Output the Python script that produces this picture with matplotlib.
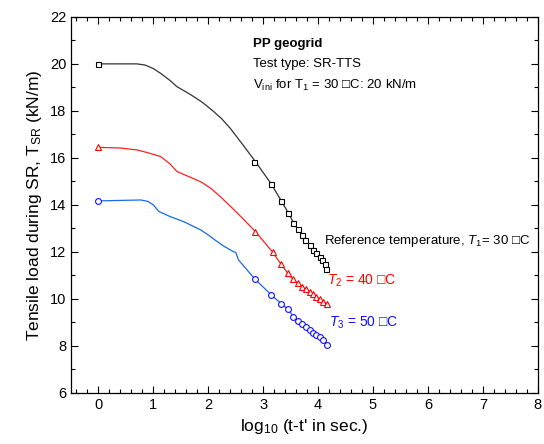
import numpy as np
import matplotlib
matplotlib.use("Agg")
import matplotlib.pyplot as plt

plt.rcParams['font.family'] = ['Liberation Sans', 'DejaVu Sans']
plt.rcParams['mathtext.fontset'] = 'custom'
plt.rcParams['mathtext.rm'] = 'Liberation Sans'
plt.rcParams['mathtext.it'] = 'Liberation Sans:italic'
plt.rcParams['mathtext.default'] = 'regular'

# T1 = 30 C (reference) - line
x30_line = [0, 0.7, 0.85, 1.0, 1.13, 1.3, 1.43, 1.6, 1.74, 1.9, 2.1, 2.25, 2.4, 2.6, 2.86,
            3.15, 3.33, 3.46, 3.55, 3.63, 3.71, 3.77, 3.85, 3.91, 3.97, 4.03, 4.07, 4.12, 4.15]
y30_line = [20.0, 20.0, 19.95, 19.8, 19.6, 19.3, 19.03, 18.8, 18.6, 18.35, 17.97, 17.65, 17.26,
            16.65, 15.84, 14.88, 14.17, 13.65, 13.25, 12.97, 12.72, 12.51, 12.3, 12.09, 11.94,
            11.8, 11.66, 11.49, 11.28]
x30_mk = [0, 2.84, 3.15, 3.33, 3.46, 3.55, 3.63, 3.71, 3.77, 3.85, 3.91, 3.97, 4.03, 4.07, 4.12, 4.15]
y30_mk = [20.0, 15.82, 14.88, 14.17, 13.65, 13.25, 12.97, 12.72, 12.51, 12.3, 12.09, 11.94,
          11.8, 11.66, 11.49, 11.28]

# T2 = 40 C
x40_line = [0, 0.4, 0.7, 0.9, 1.13, 1.3, 1.43, 1.6, 1.86, 2.05, 2.22, 2.4, 2.53, 2.7, 2.86,
            3.17, 3.32, 3.45, 3.54, 3.63, 3.71, 3.78, 3.85, 3.91, 3.97, 4.03, 4.09, 4.16]
y40_line = [16.45, 16.42, 16.34, 16.22, 16.06, 15.75, 15.42, 15.25, 14.99, 14.7, 14.35, 13.95,
            13.65, 13.25, 12.86, 12.0, 11.49, 11.09, 10.84, 10.67, 10.52, 10.41, 10.31, 10.2,
            10.1, 9.99, 9.89, 9.79]
x40_mk = [0, 2.86, 3.17, 3.32, 3.45, 3.54, 3.63, 3.71, 3.78, 3.85, 3.91, 3.97, 4.03, 4.09, 4.16]
y40_mk = [16.45, 12.86, 12.0, 11.49, 11.09, 10.84, 10.67, 10.52, 10.41, 10.31, 10.2, 10.1,
          9.99, 9.89, 9.79]

# T3 = 50 C
x50_line = [0, 0.77, 0.9, 1.0, 1.1, 1.31, 1.55, 1.86, 2.0, 2.16, 2.3, 2.46, 2.5, 2.55, 2.7,
            2.85, 3.15, 3.33, 3.45, 3.55, 3.63, 3.71, 3.78, 3.85, 3.91, 3.97, 4.03, 4.09, 4.16]
y50_line = [14.17, 14.21, 14.15, 14.0, 13.72, 13.5, 13.29, 12.94, 12.72, 12.44, 12.22, 12.01,
            11.98, 11.66, 11.25, 10.84, 10.17, 9.79, 9.57, 9.25, 9.08, 8.94, 8.8, 8.68, 8.57,
            8.47, 8.37, 8.26, 8.05]
x50_mk = [0, 2.85, 3.15, 3.33, 3.45, 3.55, 3.63, 3.71, 3.78, 3.85, 3.91, 3.97, 4.03, 4.09, 4.16]
y50_mk = [14.17, 10.84, 10.17, 9.79, 9.57, 9.25, 9.08, 8.94, 8.8, 8.68, 8.57, 8.47, 8.37, 8.26, 8.05]

fig = plt.figure(figsize=(5.44, 4.44), dpi=100)
ax = fig.add_axes([0.1305, 0.115, 0.858, 0.847])

ax.plot(x30_line, y30_line, color='#333333', lw=0.9)
ax.plot(x30_mk, y30_mk, ls='none', marker='s', ms=3.6, mfc='white', mec='black', mew=0.8)
ax.plot(x40_line, y40_line, color='#ff2020', lw=0.9)
ax.plot(x40_mk, y40_mk, ls='none', marker='^', ms=4.8, mfc='white', mec='red', mew=0.8)
ax.plot(x50_line, y50_line, color='#1a6ae8', lw=0.9)
ax.plot(x50_mk, y50_mk, ls='none', marker='o', ms=4.2, mfc='white', mec='#1010ff', mew=0.8)

ax.set_xlim(-0.5, 8)
ax.set_ylim(6, 22)
ax.set_xticks(np.arange(0, 9, 1))
ax.set_xticks(np.arange(-0.4, 8.01, 0.2), minor=True)
ax.set_yticks(np.arange(6, 23, 2))
ax.set_yticks(np.arange(7, 22, 2), minor=True)
ax.tick_params(which='both', direction='in', top=True, right=True, labelsize=10.5, width=0.8)
ax.tick_params(which='major', length=5)
ax.tick_params(which='minor', length=3)
for s in ax.spines.values():
    s.set_linewidth(0.9)

ax.set_xlabel("log$_{10}$ (t-t' in sec.)", fontsize=12.5)
ax.set_ylabel("Tensile load during SR, T$_{SR}$ (kN/m)", fontsize=12.5)

ax.text(2.82, 20.85, "PP geogrid", fontsize=9.5, fontweight='bold', va='center')
ax.text(2.82, 20.0, "Test type: SR-TTS", fontsize=9.5, va='center')
ax.text(2.82, 19.1, "V$_{ini}$ for T$_1$ = 30 \u25a1C: 20 kN/m", fontsize=9.5, va='center')

ax.text(4.1, 12.45, "Reference temperature, $\\mathit{T}_1$= 30 \u25a1C", fontsize=9.5, va='center')
ax.text(4.17, 10.75, "$\\mathit{T}_2$ = 40 \u25a1C", fontsize=10, color='red', va='center')
ax.text(4.2, 9.0, "$\\mathit{T}_3$ = 50 \u25a1C", fontsize=10, color='#1010ff', va='center')

fig.savefig("out.png", dpi=100)
